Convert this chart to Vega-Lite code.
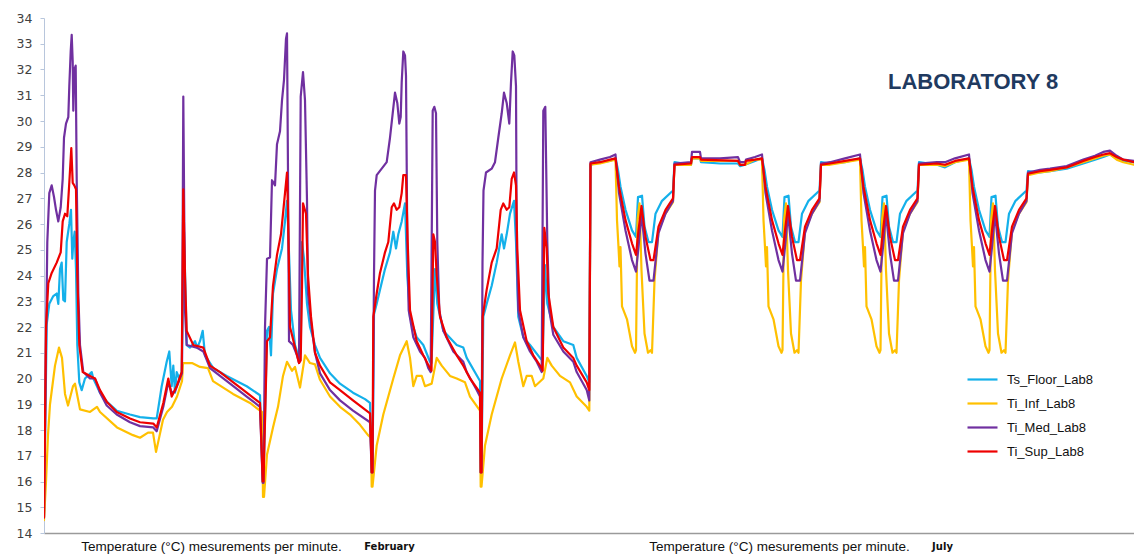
{
"$schema":"https://vega.github.io/schema/vega-lite/v6.json",
"width":1090,"height":515,
"autosize":{"type":"none"},
"padding":{"left":44,"top":18,"right":0,"bottom":23},
"background":"white",
"title":{"text":"LABORATORY 8","anchor":"start","frame":"group","dx":844,"offset":-92,"baseline":"middle","font":"Liberation Sans","fontWeight":"bold","fontSize":22,"color":"#1f3a60"},
"config":{"view":{"stroke":null},"font":"Liberation Sans","line":{"strokeWidth":2.2,"strokeJoin":"round","strokeCap":"round"}},
"datasets":{
"floor":[{"t":44,"v":14.6},{"t":46.7,"v":22.1},{"t":49.3,"v":22.9},{"t":53.3,"v":23.2},{"t":56.7,"v":23.3},{"t":58.3,"v":22.9},{"t":60,"v":24.25},{"t":61.7,"v":24.5},{"t":63.3,"v":23.05},{"t":65,"v":23.0},{"t":66.7,"v":25.3},{"t":69.3,"v":26.0},{"t":71,"v":26.55},{"t":72.3,"v":24.65},{"t":73.3,"v":25.3},{"t":74.7,"v":25.7},{"t":76,"v":24.25},{"t":77.3,"v":21.3},{"t":79.3,"v":19.85},{"t":81.7,"v":19.55},{"t":85,"v":20.0},{"t":91.7,"v":20.25},{"t":93.3,"v":20.0},{"t":100,"v":19.45},{"t":106.7,"v":19.1},{"t":116.7,"v":18.75},{"t":130,"v":18.6},{"t":140,"v":18.5},{"t":153.3,"v":18.45},{"t":156.7,"v":18.45},{"t":161.7,"v":19.7},{"t":166.7,"v":20.65},{"t":169.3,"v":21.05},{"t":171.7,"v":19.7},{"t":173.3,"v":20.5},{"t":175,"v":19.45},{"t":176.7,"v":20.25},{"t":179.3,"v":20.0},{"t":181.7,"v":20.25},{"t":184,"v":25.7},{"t":185.3,"v":23.7},{"t":186.7,"v":21.3},{"t":190,"v":21.2},{"t":195,"v":21.45},{"t":197.3,"v":21.2},{"t":200,"v":21.45},{"t":202.7,"v":21.85},{"t":205,"v":20.9},{"t":213.3,"v":20.4},{"t":226.7,"v":20.1},{"t":246.7,"v":19.7},{"t":260,"v":19.35},{"t":262.7,"v":16.0},
{"t":263.5,"v":16.0},{"t":267,"v":21.85},{"t":269,"v":22.0},{"t":271,"v":20.9},{"t":273,"v":23.3},{"t":277,"v":24.25},{"t":282,"v":25.05},{"t":285,"v":26.1},{"t":287,"v":26.9},{"t":288,"v":26.0},{"t":291,"v":22.65},{"t":295,"v":21.3},{"t":299,"v":20.8},{"t":300.7,"v":21.0},{"t":302,"v":25.3},{"t":304,"v":24.65},{"t":307,"v":22.9},{"t":310,"v":22.0},{"t":315,"v":21.3},{"t":320,"v":20.8},{"t":330,"v":20.2},{"t":340,"v":19.8},{"t":353,"v":19.45},{"t":365,"v":19.2},{"t":370,"v":19.05},{"t":371.7,"v":16.35},
{"t":372.5,"v":16.35},{"t":374,"v":22.5},{"t":376.7,"v":22.9},{"t":380,"v":23.45},{"t":385,"v":24.25},{"t":390,"v":24.9},{"t":393.3,"v":25.7},{"t":396,"v":25.05},{"t":398.3,"v":25.6},{"t":401.7,"v":26.1},{"t":405,"v":26.8},{"t":407.3,"v":24.0},{"t":410,"v":22.4},{"t":416.7,"v":21.6},{"t":423.3,"v":21.3},{"t":430,"v":20.65},{"t":431.5,"v":20.6},{"t":435,"v":24.25},{"t":437.3,"v":22.9},{"t":443.3,"v":21.85},{"t":456.7,"v":21.3},{"t":463.3,"v":21.2},{"t":466.7,"v":20.8},{"t":480,"v":19.9},{"t":480.7,"v":16.35},
{"t":481.5,"v":16.35},{"t":483.3,"v":22.4},{"t":486.7,"v":22.9},{"t":491.7,"v":23.6},{"t":496.7,"v":24.5},{"t":501.7,"v":25.6},{"t":504,"v":25.05},{"t":506.7,"v":25.6},{"t":510,"v":26.4},{"t":514,"v":26.9},{"t":516,"v":25.3},{"t":518.3,"v":22.4},{"t":523.3,"v":21.6},{"t":530,"v":21.3},{"t":540,"v":20.8},{"t":542.5,"v":20.7},{"t":545,"v":24.4},{"t":547.3,"v":22.9},{"t":553.3,"v":22.0},{"t":563.3,"v":21.45},{"t":573.3,"v":21.3},{"t":576.7,"v":20.8},{"t":586.7,"v":20.1},{"t":589.3,"v":19.85},
{"t":590.5,"v":28.3},{"t":600,"v":28.4},{"t":610,"v":28.45},
{"t":615.5,"v":28.55},{"t":618,"v":28.1},{"t":620.5,"v":27.45},{"t":625.5,"v":26.55},{"t":632,"v":25.75},{"t":636,"v":25.5},{"t":638,"v":27.05},{"t":642,"v":27.1},{"t":644.5,"v":25.9},{"t":648.5,"v":25.3},{"t":652,"v":25.3},{"t":655.5,"v":26.4},{"t":662,"v":26.9},{"t":673,"v":27.3},{"t":674.5,"v":28.4},
{"t":691,"v":28.3},{"t":692,"v":28.55},{"t":700,"v":28.55},{"t":701,"v":28.4},{"t":720,"v":28.35},{"t":738,"v":28.35},{"t":740,"v":28.25},{"t":745,"v":28.3},{"t":755,"v":28.45},
{"t":762,"v":28.55},{"t":764.5,"v":28.1},{"t":767,"v":27.45},{"t":772,"v":26.55},{"t":778.5,"v":25.75},{"t":782.5,"v":25.5},{"t":784.5,"v":27.05},{"t":788.5,"v":27.1},{"t":791,"v":25.9},{"t":795,"v":25.3},{"t":798.5,"v":25.3},{"t":802,"v":26.4},{"t":808.5,"v":26.9},{"t":819.5,"v":27.3},{"t":821,"v":28.4},
{"t":830,"v":28.35},{"t":845,"v":28.4},
{"t":860,"v":28.55},{"t":862.5,"v":28.1},{"t":865,"v":27.45},{"t":870,"v":26.55},{"t":876.5,"v":25.75},{"t":880.5,"v":25.5},{"t":882.5,"v":27.05},{"t":886.5,"v":27.1},{"t":889,"v":25.9},{"t":893,"v":25.3},{"t":896.5,"v":25.3},{"t":900,"v":26.4},{"t":906.5,"v":26.9},{"t":917.5,"v":27.3},{"t":919,"v":28.4},
{"t":937,"v":28.3},{"t":945,"v":28.2},{"t":955,"v":28.4},
{"t":969,"v":28.55},{"t":971.5,"v":28.1},{"t":974,"v":27.45},{"t":979,"v":26.55},{"t":985.5,"v":25.75},{"t":989.5,"v":25.5},{"t":991.5,"v":27.05},{"t":995.5,"v":27.1},{"t":998,"v":25.9},{"t":1002,"v":25.3},{"t":1005.5,"v":25.3},{"t":1009,"v":26.4},{"t":1015.5,"v":26.9},{"t":1026.5,"v":27.3},{"t":1028,"v":28.05},
{"t":1040,"v":28.0},{"t":1050,"v":28.05},{"t":1066.7,"v":28.15},{"t":1083.3,"v":28.35},{"t":1095,"v":28.5},{"t":1103.3,"v":28.6},{"t":1110,"v":28.7},{"t":1116.7,"v":28.55},{"t":1123.3,"v":28.45},{"t":1134,"v":28.4}],
"inf":[{"t":44,"v":14.5},{"t":46,"v":16.0},{"t":48,"v":17.8},{"t":50,"v":19.0},{"t":55,"v":20.5},{"t":59,"v":21.2},{"t":62,"v":20.8},{"t":65,"v":19.4},{"t":68,"v":18.95},{"t":73,"v":19.7},{"t":75,"v":19.8},{"t":77,"v":19.4},{"t":80,"v":18.8},{"t":90,"v":18.7},{"t":97,"v":18.9},{"t":100,"v":18.7},{"t":117,"v":18.1},{"t":133,"v":17.8},{"t":140,"v":17.7},{"t":148,"v":17.9},{"t":153,"v":17.9},{"t":156,"v":17.15},{"t":158,"v":17.5},{"t":163,"v":18.4},{"t":167,"v":18.7},{"t":172,"v":18.9},{"t":177,"v":19.3},{"t":182,"v":19.9},{"t":183,"v":20.6},{"t":192,"v":20.6},{"t":200,"v":20.45},{"t":208,"v":20.4},{"t":213,"v":19.9},{"t":233,"v":19.4},{"t":250,"v":19.05},{"t":260,"v":18.75},{"t":262,"v":18.7},{"t":263,"v":15.4},
{"t":264,"v":15.4},{"t":267,"v":17.05},{"t":273,"v":18.1},{"t":278,"v":18.9},{"t":283,"v":20.1},{"t":287,"v":20.65},{"t":292,"v":20.3},{"t":295,"v":20.45},{"t":300,"v":19.65},{"t":305,"v":20.9},{"t":310,"v":20.6},{"t":315,"v":20.55},{"t":320,"v":19.95},{"t":330,"v":19.3},{"t":340,"v":18.9},{"t":350,"v":18.6},{"t":360,"v":18.2},{"t":368,"v":17.8},{"t":371,"v":17.7},{"t":371.7,"v":15.8},
{"t":372.5,"v":15.8},{"t":376.7,"v":17.4},{"t":383.3,"v":18.6},{"t":393.3,"v":20.0},{"t":400,"v":20.9},{"t":406.7,"v":21.45},{"t":410,"v":20.8},{"t":413.3,"v":19.7},{"t":416.7,"v":20.1},{"t":421.7,"v":20.1},{"t":425,"v":19.7},{"t":431.7,"v":19.8},{"t":436.7,"v":20.8},{"t":441.7,"v":20.5},{"t":450,"v":20.1},{"t":456.7,"v":20.0},{"t":465,"v":19.85},{"t":470,"v":19.3},{"t":480,"v":18.75},{"t":480.7,"v":15.8},
{"t":481.5,"v":15.8},{"t":485,"v":17.4},{"t":491.7,"v":18.6},{"t":501.7,"v":20.0},{"t":510,"v":20.9},{"t":515,"v":21.4},{"t":518.3,"v":20.65},{"t":523.3,"v":19.7},{"t":526.7,"v":20.1},{"t":531.7,"v":20.1},{"t":535,"v":19.7},{"t":543.3,"v":20.0},{"t":547.3,"v":20.8},{"t":551.7,"v":20.5},{"t":560,"v":20.1},{"t":570,"v":19.85},{"t":576.7,"v":19.3},{"t":586.7,"v":18.9},{"t":589.3,"v":18.75},
{"t":590.5,"v":28.3},{"t":600,"v":28.35},{"t":610,"v":28.45},
{"t":615.5,"v":28.5},{"t":617,"v":26.15},{"t":618.5,"v":25.1},{"t":619.5,"v":24.35},{"t":620.5,"v":25.1},{"t":622,"v":22.8},{"t":627,"v":22.3},{"t":632,"v":21.25},{"t":635,"v":21.0},{"t":636,"v":21.1},{"t":637.5,"v":26.15},{"t":639.5,"v":26.8},{"t":641.5,"v":24.2},{"t":644.5,"v":21.75},{"t":648,"v":21.0},{"t":650.5,"v":21.1},{"t":652,"v":21.0},{"t":654.5,"v":23.8},{"t":658.5,"v":25.75},{"t":665.5,"v":26.4},{"t":673,"v":26.85},{"t":674.5,"v":28.3},
{"t":691,"v":28.3},{"t":692,"v":28.55},{"t":700,"v":28.55},{"t":701,"v":28.45},{"t":738,"v":28.45},{"t":740,"v":28.3},{"t":745,"v":28.3},{"t":755,"v":28.5},
{"t":762,"v":28.5},{"t":763.5,"v":26.15},{"t":765,"v":25.1},{"t":766,"v":24.35},{"t":767,"v":25.1},{"t":768.5,"v":22.8},{"t":773.5,"v":22.3},{"t":778.5,"v":21.25},{"t":781.5,"v":21.0},{"t":782.5,"v":21.1},{"t":784,"v":26.15},{"t":786,"v":26.8},{"t":788,"v":24.2},{"t":791,"v":21.75},{"t":794.5,"v":21.0},{"t":797,"v":21.1},{"t":798.5,"v":21.0},{"t":801,"v":23.8},{"t":805,"v":25.75},{"t":812,"v":26.4},{"t":819.5,"v":26.85},{"t":821,"v":28.3},
{"t":830,"v":28.3},{"t":845,"v":28.4},
{"t":860,"v":28.5},{"t":861.5,"v":26.15},{"t":863,"v":25.1},{"t":864,"v":24.35},{"t":865,"v":25.1},{"t":866.5,"v":22.8},{"t":871.5,"v":22.3},{"t":876.5,"v":21.25},{"t":879.5,"v":21.0},{"t":880.5,"v":21.1},{"t":882,"v":26.15},{"t":884,"v":26.8},{"t":886,"v":24.2},{"t":889,"v":21.75},{"t":892.5,"v":21.0},{"t":895,"v":21.1},{"t":896.5,"v":21.0},{"t":899,"v":23.8},{"t":903,"v":25.75},{"t":910,"v":26.4},{"t":917.5,"v":26.85},{"t":919,"v":28.3},
{"t":937,"v":28.3},{"t":945,"v":28.25},{"t":955,"v":28.4},
{"t":969,"v":28.5},{"t":970.5,"v":26.15},{"t":972,"v":25.1},{"t":973,"v":24.35},{"t":974,"v":25.1},{"t":975.5,"v":22.8},{"t":980.5,"v":22.3},{"t":985.5,"v":21.25},{"t":988.5,"v":21.0},{"t":989.5,"v":21.1},{"t":991,"v":26.15},{"t":993,"v":26.8},{"t":995,"v":24.2},{"t":998,"v":21.75},{"t":1001.5,"v":21.0},{"t":1004,"v":21.1},{"t":1005.5,"v":21.0},{"t":1008,"v":23.8},{"t":1012,"v":25.75},{"t":1019,"v":26.4},{"t":1026.5,"v":26.85},{"t":1028,"v":27.9},
{"t":1040,"v":28.0},{"t":1050,"v":28.05},{"t":1066.7,"v":28.2},{"t":1083.3,"v":28.4},{"t":1095,"v":28.55},{"t":1103.3,"v":28.65},{"t":1110,"v":28.7},{"t":1116.7,"v":28.5},{"t":1123.3,"v":28.4},{"t":1134,"v":28.3}],
"med":[{"t":44,"v":14.6},{"t":46,"v":21.3},{"t":47.3,"v":25.3},{"t":49.3,"v":27.2},{"t":51.7,"v":27.5},{"t":54,"v":27.05},{"t":56,"v":26.55},{"t":58.3,"v":26.1},{"t":60.7,"v":26.65},{"t":62.7,"v":27.75},{"t":64,"v":29.35},{"t":66,"v":29.9},{"t":68.3,"v":30.15},{"t":69.3,"v":31.35},{"t":70.7,"v":32.7},{"t":71.7,"v":33.35},{"t":72.7,"v":32.3},{"t":73.3,"v":30.4},{"t":74.3,"v":32.0},{"t":75.7,"v":32.15},{"t":76.7,"v":27.75},{"t":78.3,"v":23.3},{"t":80,"v":21.3},{"t":83.3,"v":20.25},{"t":90,"v":20.0},{"t":95,"v":20.0},{"t":100,"v":19.45},{"t":106.7,"v":18.95},{"t":116.7,"v":18.6},{"t":130,"v":18.3},{"t":140,"v":18.15},{"t":153.3,"v":18.1},{"t":156.7,"v":17.95},{"t":163.3,"v":18.9},{"t":168.3,"v":19.85},{"t":171.7,"v":19.45},{"t":175,"v":19.5},{"t":180,"v":20.0},{"t":182,"v":20.2},{"t":183.3,"v":30.95},{"t":185,"v":22.65},{"t":186.7,"v":21.3},{"t":196.7,"v":21.2},{"t":203.3,"v":21.05},{"t":210,"v":20.4},{"t":220,"v":20.1},{"t":233.3,"v":19.7},{"t":246.7,"v":19.3},{"t":260,"v":18.9},{"t":262.7,"v":15.95},
{"t":263.5,"v":15.95},{"t":265,"v":22.0},{"t":267,"v":24.65},{"t":270,"v":24.7},{"t":272,"v":27.7},{"t":275,"v":27.5},{"t":277,"v":29.1},{"t":280,"v":29.6},{"t":282,"v":30.8},{"t":284,"v":31.6},{"t":286,"v":33.2},{"t":287,"v":33.4},{"t":288,"v":28.0},{"t":289,"v":21.45},{"t":293,"v":21.3},{"t":297,"v":20.9},{"t":299,"v":20.6},{"t":300.7,"v":30.95},{"t":303,"v":31.9},{"t":305,"v":30.8},{"t":307,"v":26.9},{"t":308,"v":23.3},{"t":311,"v":22.2},{"t":315,"v":21.0},{"t":320,"v":20.2},{"t":330,"v":19.55},{"t":340,"v":19.15},{"t":353,"v":18.75},{"t":370,"v":18.3},{"t":371.7,"v":16.35},
{"t":372.5,"v":16.35},{"t":374,"v":24.0},{"t":375,"v":27.3},{"t":376.7,"v":27.9},{"t":381.7,"v":28.15},{"t":386.7,"v":28.4},{"t":390,"v":29.35},{"t":392.7,"v":30.3},{"t":395,"v":31.1},{"t":397.3,"v":30.7},{"t":399.3,"v":29.9},{"t":400.7,"v":30.15},{"t":401.7,"v":31.5},{"t":403.3,"v":32.7},{"t":405,"v":32.55},{"t":406,"v":31.75},{"t":407.3,"v":25.3},{"t":408.7,"v":22.65},{"t":413.3,"v":21.6},{"t":420,"v":21.05},{"t":425,"v":20.8},{"t":428.3,"v":20.4},{"t":430.7,"v":20.25},{"t":432.7,"v":30.4},{"t":434.3,"v":30.55},{"t":436,"v":30.3},{"t":437.3,"v":25.3},{"t":439.3,"v":22.65},{"t":443.3,"v":21.85},{"t":453.3,"v":21.05},{"t":463.3,"v":20.65},{"t":466.7,"v":20.25},{"t":476.7,"v":19.55},{"t":480,"v":19.3},{"t":480.7,"v":16.35},
{"t":481.5,"v":16.35},{"t":482.5,"v":24.5},{"t":483.5,"v":27.3},{"t":486,"v":28.0},{"t":491.7,"v":28.15},{"t":495,"v":28.4},{"t":498.3,"v":29.35},{"t":501.7,"v":30.3},{"t":504,"v":31.1},{"t":506.7,"v":30.7},{"t":509.3,"v":29.9},{"t":511,"v":31.5},{"t":512.7,"v":32.7},{"t":514.3,"v":32.55},{"t":516,"v":31.35},{"t":516.7,"v":25.3},{"t":518.3,"v":22.65},{"t":523.3,"v":21.6},{"t":530,"v":21.05},{"t":536.7,"v":20.65},{"t":541.7,"v":20.25},{"t":543.3,"v":30.4},{"t":545.3,"v":30.55},{"t":547.3,"v":25.3},{"t":549.3,"v":22.65},{"t":553.3,"v":21.7},{"t":563.3,"v":21.05},{"t":573.3,"v":20.65},{"t":576.7,"v":20.25},{"t":586.7,"v":19.55},{"t":589.3,"v":19.15},
{"t":590.5,"v":28.4},{"t":600,"v":28.5},{"t":610,"v":28.6},
{"t":615.5,"v":28.7},{"t":619,"v":27.2},{"t":625.5,"v":25.75},{"t":632,"v":24.6},{"t":636,"v":24.15},{"t":638.5,"v":25.1},{"t":641.5,"v":26.4},{"t":645.5,"v":24.85},{"t":649.5,"v":23.8},{"t":653.5,"v":23.8},{"t":658.5,"v":25.65},{"t":665.5,"v":26.4},{"t":673,"v":26.9},{"t":674.5,"v":28.35},
{"t":691,"v":28.4},{"t":692,"v":28.8},{"t":700,"v":28.8},{"t":701,"v":28.55},{"t":720,"v":28.55},{"t":738,"v":28.6},{"t":740,"v":28.4},{"t":745,"v":28.4},{"t":746,"v":28.5},{"t":755,"v":28.6},
{"t":762,"v":28.7},{"t":765.5,"v":27.2},{"t":772,"v":25.75},{"t":778.5,"v":24.6},{"t":782.5,"v":24.15},{"t":785,"v":25.1},{"t":788,"v":26.4},{"t":792,"v":24.85},{"t":796,"v":23.8},{"t":800,"v":23.8},{"t":805,"v":25.65},{"t":812,"v":26.4},{"t":819.5,"v":26.9},{"t":821,"v":28.35},
{"t":830,"v":28.4},{"t":845,"v":28.55},
{"t":860,"v":28.7},{"t":863.5,"v":27.2},{"t":870,"v":25.75},{"t":876.5,"v":24.6},{"t":880.5,"v":24.15},{"t":883,"v":25.1},{"t":886,"v":26.4},{"t":890,"v":24.85},{"t":894,"v":23.8},{"t":898,"v":23.8},{"t":903,"v":25.65},{"t":910,"v":26.4},{"t":917.5,"v":26.9},{"t":919,"v":28.35},
{"t":937,"v":28.4},{"t":945,"v":28.4},{"t":955,"v":28.55},
{"t":969,"v":28.7},{"t":972.5,"v":27.2},{"t":979,"v":25.75},{"t":985.5,"v":24.6},{"t":989.5,"v":24.15},{"t":992,"v":25.1},{"t":995,"v":26.4},{"t":999,"v":24.85},{"t":1003,"v":23.8},{"t":1007,"v":23.8},{"t":1012,"v":25.65},{"t":1019,"v":26.4},{"t":1026.5,"v":26.9},{"t":1028,"v":28.0},
{"t":1040,"v":28.1},{"t":1050,"v":28.15},{"t":1066.7,"v":28.25},{"t":1083.3,"v":28.5},{"t":1095,"v":28.65},{"t":1103.3,"v":28.8},{"t":1110,"v":28.85},{"t":1116.7,"v":28.65},{"t":1123.3,"v":28.5},{"t":1134,"v":28.45}],
"sup":[{"t":44,"v":14.6},{"t":46,"v":22.0},{"t":48.3,"v":23.7},{"t":51.7,"v":24.1},{"t":56.7,"v":24.5},{"t":60.7,"v":24.9},{"t":62.7,"v":26.1},{"t":65,"v":26.4},{"t":67.3,"v":26.3},{"t":69.3,"v":27.6},{"t":71.3,"v":28.95},{"t":72.7,"v":27.6},{"t":74.3,"v":27.5},{"t":76,"v":27.35},{"t":77.3,"v":24.0},{"t":79.3,"v":21.3},{"t":82.7,"v":20.25},{"t":90,"v":20.1},{"t":95,"v":20.0},{"t":100,"v":19.55},{"t":106.7,"v":19.1},{"t":116.7,"v":18.7},{"t":130,"v":18.45},{"t":140,"v":18.3},{"t":153.3,"v":18.25},{"t":156.7,"v":18.1},{"t":163.3,"v":19.05},{"t":168.3,"v":20.0},{"t":171.7,"v":19.3},{"t":176.7,"v":19.7},{"t":181.7,"v":20.25},{"t":183.3,"v":27.35},{"t":185,"v":24.0},{"t":186.7,"v":21.85},{"t":193.3,"v":21.3},{"t":203.3,"v":21.2},{"t":210,"v":20.5},{"t":220,"v":20.25},{"t":233.3,"v":19.85},{"t":246.7,"v":19.45},{"t":260,"v":19.05},{"t":262.7,"v":16.0},
{"t":263.5,"v":16.0},{"t":267,"v":21.45},{"t":270,"v":21.6},{"t":273,"v":23.6},{"t":277,"v":24.8},{"t":281,"v":25.6},{"t":283,"v":26.4},{"t":287,"v":28.0},{"t":288,"v":26.5},{"t":290,"v":22.0},{"t":297,"v":20.9},{"t":299,"v":20.6},{"t":300.7,"v":20.7},{"t":302,"v":23.6},{"t":303,"v":26.8},{"t":306,"v":26.4},{"t":308,"v":24.0},{"t":311,"v":22.4},{"t":315,"v":21.0},{"t":320,"v":20.5},{"t":330,"v":19.85},{"t":340,"v":19.55},{"t":353,"v":19.15},{"t":370,"v":18.65},{"t":371.7,"v":16.35},
{"t":372.5,"v":16.35},{"t":373.3,"v":22.4},{"t":376.7,"v":23.3},{"t":380,"v":24.1},{"t":385,"v":24.9},{"t":388.3,"v":25.3},{"t":391.7,"v":26.65},{"t":394,"v":26.8},{"t":396.7,"v":26.55},{"t":399.3,"v":26.65},{"t":401.7,"v":27.2},{"t":403.3,"v":27.9},{"t":406,"v":27.9},{"t":407.7,"v":25.3},{"t":410,"v":22.65},{"t":416.7,"v":21.45},{"t":423.3,"v":20.9},{"t":430,"v":20.4},{"t":431.5,"v":20.3},{"t":433.3,"v":25.6},{"t":435,"v":25.3},{"t":436.7,"v":24.0},{"t":440,"v":22.4},{"t":446.7,"v":21.6},{"t":456.7,"v":20.9},{"t":463.3,"v":20.5},{"t":470,"v":20.0},{"t":480,"v":19.45},{"t":480.7,"v":16.35},
{"t":481.5,"v":16.35},{"t":482.7,"v":22.4},{"t":486.7,"v":23.45},{"t":491.7,"v":24.5},{"t":496.7,"v":25.05},{"t":500.7,"v":26.55},{"t":503.3,"v":26.8},{"t":506.7,"v":26.55},{"t":509.3,"v":26.65},{"t":511.7,"v":27.75},{"t":514,"v":28.0},{"t":516,"v":27.5},{"t":517.3,"v":25.05},{"t":520,"v":22.65},{"t":526.7,"v":21.45},{"t":533.3,"v":20.9},{"t":541.7,"v":20.4},{"t":542.7,"v":20.3},{"t":544.3,"v":25.85},{"t":546.7,"v":25.05},{"t":548.3,"v":23.3},{"t":553.3,"v":22.0},{"t":563.3,"v":21.2},{"t":573.3,"v":20.8},{"t":576.7,"v":20.5},{"t":586.7,"v":19.85},{"t":589.3,"v":19.55},
{"t":590.5,"v":28.35},{"t":600,"v":28.4},{"t":610,"v":28.5},
{"t":615.5,"v":28.55},{"t":619,"v":27.45},{"t":625.5,"v":26.15},{"t":632,"v":25.25},{"t":636,"v":24.8},{"t":638.5,"v":25.75},{"t":641.5,"v":26.7},{"t":645.5,"v":25.5},{"t":650.5,"v":24.6},{"t":653.5,"v":24.6},{"t":658.5,"v":25.9},{"t":665.5,"v":26.55},{"t":673,"v":27.0},{"t":674.5,"v":28.3},
{"t":691,"v":28.35},{"t":692,"v":28.6},{"t":700,"v":28.6},{"t":701,"v":28.5},{"t":738,"v":28.45},{"t":740,"v":28.3},{"t":745,"v":28.3},{"t":746,"v":28.45},{"t":755,"v":28.5},
{"t":762,"v":28.55},{"t":765.5,"v":27.45},{"t":772,"v":26.15},{"t":778.5,"v":25.25},{"t":782.5,"v":24.8},{"t":785,"v":25.75},{"t":788,"v":26.7},{"t":792,"v":25.5},{"t":797,"v":24.6},{"t":800,"v":24.6},{"t":805,"v":25.9},{"t":812,"v":26.55},{"t":819.5,"v":27.0},{"t":821,"v":28.3},
{"t":830,"v":28.35},{"t":845,"v":28.45},
{"t":860,"v":28.55},{"t":863.5,"v":27.45},{"t":870,"v":26.15},{"t":876.5,"v":25.25},{"t":880.5,"v":24.8},{"t":883,"v":25.75},{"t":886,"v":26.7},{"t":890,"v":25.5},{"t":895,"v":24.6},{"t":898,"v":24.6},{"t":903,"v":25.9},{"t":910,"v":26.55},{"t":917.5,"v":27.0},{"t":919,"v":28.3},
{"t":937,"v":28.35},{"t":945,"v":28.3},{"t":955,"v":28.45},
{"t":969,"v":28.55},{"t":972.5,"v":27.45},{"t":979,"v":26.15},{"t":985.5,"v":25.25},{"t":989.5,"v":24.8},{"t":992,"v":25.75},{"t":995,"v":26.7},{"t":999,"v":25.5},{"t":1004,"v":24.6},{"t":1007,"v":24.6},{"t":1012,"v":25.9},{"t":1019,"v":26.55},{"t":1026.5,"v":27.0},{"t":1028,"v":27.95},
{"t":1040,"v":28.05},{"t":1050,"v":28.1},{"t":1066.7,"v":28.2},{"t":1083.3,"v":28.45},{"t":1095,"v":28.6},{"t":1103.3,"v":28.7},{"t":1110,"v":28.75},{"t":1116.7,"v":28.6},{"t":1123.3,"v":28.5},{"t":1134,"v":28.4}]
},
"encoding":{
  "x":{"field":"t","type":"quantitative","scale":{"domain":[44,1134],"nice":false,"zero":false},
   "axis":{"title":null,"grid":false,"ticks":false,"tickSize":0,"domainColor":"#9a9a9a","domainWidth":1.5,
    "values":[211,389,779,942],"labelOverlap":false,"labelBound":false,"labelFlush":false,"labelLimit":500,"labelPadding":13,"labelBaseline":"middle","labelAlign":"center","labelColor":"#111111",
    "labelExpr":"datum.value == 389 ? 'February' : (datum.value == 942 ? 'July' : 'Temperature (°C) mesurements per minute.')",
    "labelFontWeight":{"expr":"datum.value == 389 || datum.value == 942 ? 'bold' : 'normal'"},
    "labelFont":{"expr":"datum.value == 389 || datum.value == 942 ? 'DejaVu Sans' : 'Liberation Sans'"},
    "labelFontSize":{"expr":"datum.value == 389 || datum.value == 942 ? 10 : 13.5"}}},
  "y":{"field":"v","type":"quantitative","scale":{"domain":[14,34],"nice":false,"zero":false},
   "axis":{"title":null,"grid":false,"values":[14,15,16,17,18,19,20,21,22,23,24,25,26,27,28,29,30,31,32,33,34],"labelOverlap":false,"labelFlush":false,"domainColor":"#b8c6dc","tickColor":"#b8c6dc","tickSize":4,"labelPadding":8,"labelFont":"DejaVu Sans","labelFontSize":12.5,"labelColor":"#404040"}}
},
"layer":[
{"data":{"name":"floor"},"mark":{"type":"line","clip":true},
 "encoding":{
  "color":{"datum":"Ts_Floor_Lab8","type":"nominal","scale":{"domain":["Ts_Floor_Lab8","Ti_Inf_Lab8","Ti_Med_Lab8","Ti_Sup_Lab8"],"range":["#14b0ea","#ffc000","#7030a0","#ee0000"]},
   "legend":{"orient":"none","legendX":922,"legendY":345,"title":null,"symbolType":"stroke","symbolSize":900,"symbolStrokeWidth":2.5,"labelFont":"Liberation Sans","labelFontSize":13,"labelColor":"#111111","rowPadding":0,"labelOffset":8,"padding":0}}}},
{"data":{"name":"inf"},"mark":{"type":"line","clip":true},"encoding":{"color":{"datum":"Ti_Inf_Lab8","type":"nominal"}}},
{"data":{"name":"med"},"mark":{"type":"line","clip":true},"encoding":{"color":{"datum":"Ti_Med_Lab8","type":"nominal"}}},
{"data":{"name":"sup"},"mark":{"type":"line","clip":true},"encoding":{"color":{"datum":"Ti_Sup_Lab8","type":"nominal"}}}
]
}
